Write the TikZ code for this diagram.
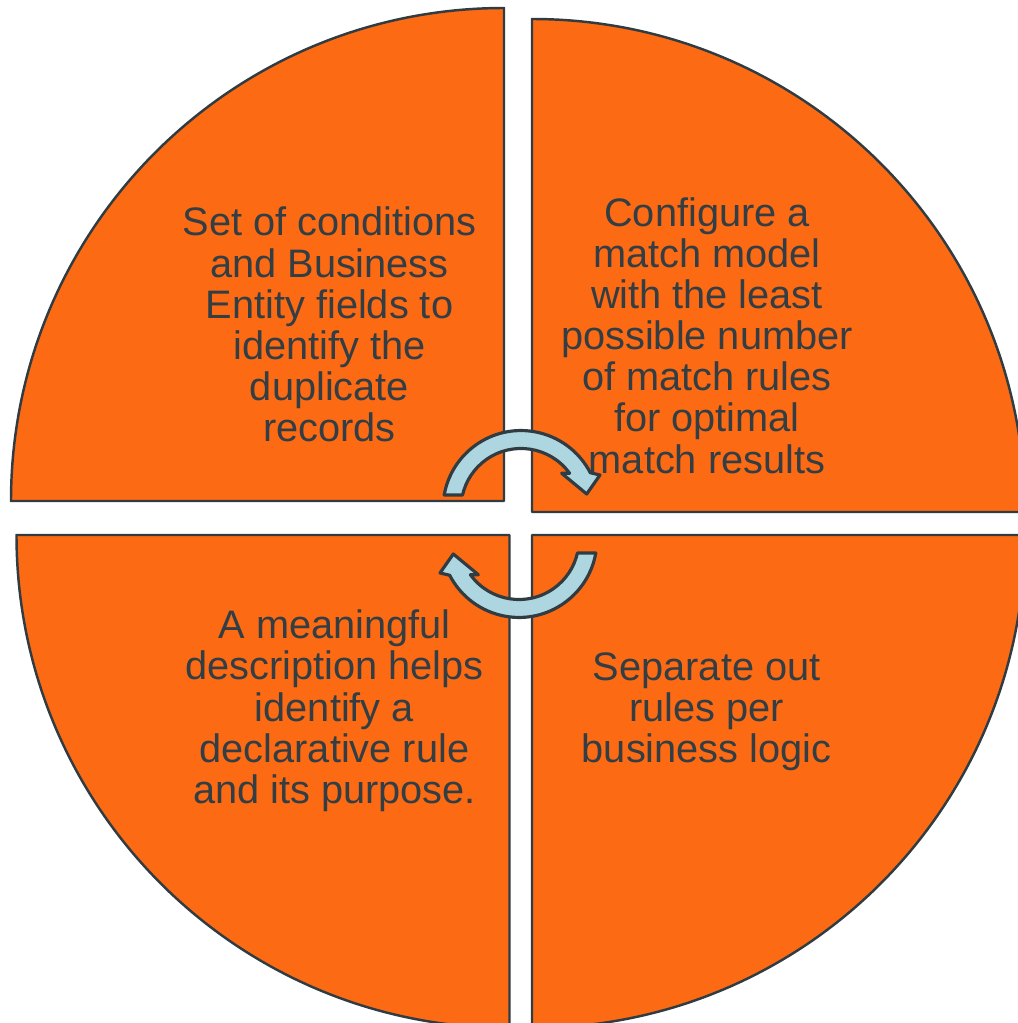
\documentclass[tikz,border=0pt]{standalone}
\usepackage{fontspec}
\setmainfont{Liberation Sans}
\definecolor{quadorange}{RGB}{252,106,20}
\definecolor{edgegrey}{RGB}{48,60,66}
\definecolor{textgrey}{RGB}{50,62,68}
\definecolor{arrowblue}{RGB}{173,214,224}
\tikzstyle{every node}+=[inner sep=0pt,align=center,text=textgrey,font=\fontsize{11.3}{11.7}\selectfont]
\tikzstyle{quad}=[fill=quadorange,draw=edgegrey,line width=0.7pt,line join=round]
\tikzstyle{turn}=[fill=arrowblue,draw=edgegrey,line width=0.9pt,line join=round]
\newcommand{\drawquadrants}[1]{
	\foreach \cx/\cy/\a/\b in {#1}{
		\filldraw[quad] (\cx,\cy) -- ++(\a:493) arc[start angle=\a,end angle=\b,radius=493] -- cycle;
	}
}
\newcommand{\circarrow}[1][]{
	\filldraw[turn,#1] (444.2,528) arc[start angle=170,end angle=27.3,radius=78]
		-- (600,548) -- (586.7,529) -- (561.7,549.7) -- (569.6,549.7)
		arc[start angle=35.9,end angle=167,radius=60] -- cycle;
}

\begin{document}
\begin{tikzpicture}[x=0.01cm,y=0.01cm]
	\useasboundingbox (0,0) rectangle (1018,1023);
	\clip (0,0) rectangle (1018,1023);
	\drawquadrants{504/522/180/90,532/511/90/0,509.5/488/180/270,532/488/270/360}
	% anchor base sits on the last line
	\node[anchor=base] (conditions) at (329.5,581.3) {Set of conditions\\and Business\\Entity fields to\\identify the\\duplicate\\records};
	\node[anchor=base] (matchmodel) at (707,550) {Configure a\\match model\\with the least\\possible number\\of match rules\\for optimal\\match results};
	\node[anchor=base] (description) at (334.5,219.7) {A meaningful\\description helps\\identify a\\declarative rule\\and its purpose.};
	\node[anchor=base] (separate) at (706.7,260.7) {Separate out\\rules per\\business logic};
	\circarrow
	\circarrow[rotate around={180:(520,499)}]
\end{tikzpicture}
\end{document}
